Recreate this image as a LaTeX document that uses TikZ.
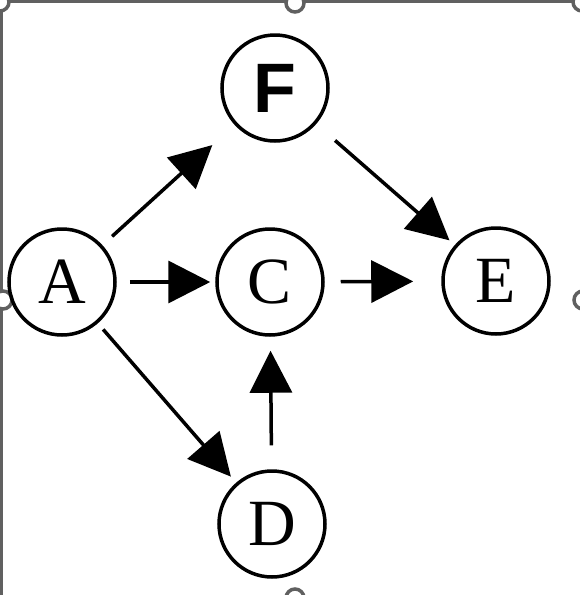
\documentclass[tikz,border=0pt]{standalone}
\usepackage{fontspec}
\newfontfamily\serifA{Liberation Serif}
\newfontfamily\sansA{Liberation Sans}
\usetikzlibrary{arrows.meta}
\definecolor{framegray}{HTML}{606060}
\tikzset{
  vtx/.style={circle, draw=black, line width=3.5pt, minimum size=106pt, inner sep=0pt,
    font=\serifA\fontsize{66}{66}\selectfont},
  edge/.style={line width=3.5pt, -{Triangle[length=42pt,width=42pt]}},
  handle/.style={circle, draw=framegray, fill=white, line width=3.5pt, minimum size=18pt, inner sep=0pt},
}
\begin{document}
\begin{tikzpicture}[x=1pt,y=-1pt]
\useasboundingbox (0,0) rectangle (580,595);
% frame
\draw[framegray, line width=3.5pt] (1.5,600) -- (1.5,1.5) -- (585,1.5);
\node[handle] (h1) at (0,2) {};
\node[handle] (h2) at (295,3) {};
\node[handle] (h3) at (582,2) {};
\node[handle] (h4) at (3,300) {};
\node[handle] (h5) at (583,300) {};
\node[handle] (h6) at (295,598) {};
% nodes
\node[vtx] (F) at (275,88) {\sansA\bfseries\fontsize{70}{70}\selectfont F};
\node[vtx] (A) at (62,282) {A};
\node[vtx] (C) at (270,282) {C};
\node[vtx] (E) at (496,281) {E};
\node[vtx] (D) at (272,524) {D};
% edges
\draw[edge, shorten <=13pt, shorten >=30pt] (A) -- (F);
\draw[edge, shorten <=13pt, shorten >=5pt] (A) -- (C);
\draw[edge, shorten <=16pt, shorten >=28pt] (C) -- (E);
\draw[edge, shorten <=25pt, shorten >=7pt] (F) -- (E);
\draw[edge, shorten <=8pt, shorten >=8pt] (A) -- (D);
\draw[edge, shorten <=24pt, shorten >=14pt] (D) -- (C);
\end{tikzpicture}
\end{document}
